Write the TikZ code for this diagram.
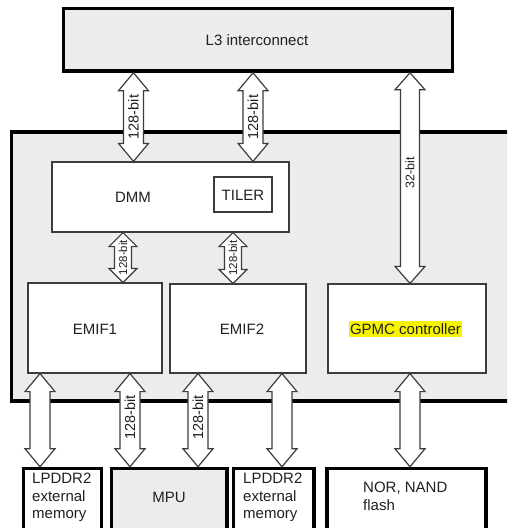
\documentclass[tikz,border=0pt]{standalone}
\usepackage{fontspec}
\setmainfont{Liberation Sans}
\usetikzlibrary{calc}
\definecolor{boxgray}{HTML}{EDEBEC}
\definecolor{arrline}{HTML}{3C3C3C}
\definecolor{txt}{HTML}{231F20}
\definecolor{hilite}{HTML}{F8F400}
\tikzset{
  thickbox/.style={draw=black, line width=3.5pt, fill=boxgray, inner sep=0pt},
  thickwhite/.style={draw=black, line width=3.5pt, fill=white, inner sep=0pt},
  thinbox/.style={draw=arrline, line width=1.2pt, fill=white, inner sep=0pt},
  boxtext/.style={text=txt, font=\fontsize{15}{17.5}\selectfont, inner sep=0pt},
  arrowsty/.style={draw=arrline, line width=1.2pt, fill=white, line join=miter},
  biglab/.style={text=txt, font=\fontsize{14.5}{15}\selectfont, rotate=90, inner sep=0pt},
  smalllab/.style={text=txt, font=\fontsize{11.5}{12}\selectfont, rotate=90, inner sep=0pt},
}
\newcommand\fatarr[5]{%
  \draw[arrowsty] let \p1=(#1), \p2=(#2) in
   (\x1,\y1) -- ({\x1+#4},{\y1-#5}) -- ({\x1+#3},{\y1-#5}) -- ({\x1+#3},{\y2+#5})
   -- ({\x1+#4},{\y2+#5}) -- (\x1,\y2) -- ({\x1-#4},{\y2+#5}) -- ({\x1-#3},{\y2+#5})
   -- ({\x1-#3},{\y1-#5}) -- ({\x1-#4},{\y1-#5}) -- cycle;}
\begin{document}
\begin{tikzpicture}[x=1pt, y=-1pt]
\useasboundingbox (0,0) rectangle (507,528);
\clip (0,0) rectangle (507,528);
\fill[white] (0,0) rectangle (507,528);

% boxes
\node[thickbox, minimum width=389pt, minimum height=62.5pt] (l3) at (258,39.75) {};
\node[boxtext] (l3t) at (257,40) {L3 interconnect};

\node[thickbox, minimum width=508.5pt, minimum height=269pt] (sub) at (265.75,266.5) {};

\node[thinbox, minimum width=237pt, minimum height=70pt] (dmm) at (170.5,197) {};
\node[boxtext] (dmmt) at (133,197) {DMM};
\node[thinbox, minimum width=58pt, minimum height=35pt] (tiler) at (243,194.5) {};
\node[boxtext] (tilert) at (243,195) {TILER};

\node[thinbox, minimum width=134pt, minimum height=90pt] (emif1) at (95,328) {};
\node[boxtext] (emif1t) at (95,329) {EMIF1};
\node[thinbox, minimum width=136pt, minimum height=89pt] (emif2) at (238,328.5) {};
\node[boxtext] (emif2t) at (242,329) {EMIF2};
\node[thinbox, minimum width=158pt, minimum height=89pt] (gpmc) at (407,328.5) {};
\node[boxtext, fill=hilite, inner xsep=1pt, inner ysep=2pt] (gpmct) at (405.5,329) {GPMC controller};

\node[thickwhite, minimum width=78pt, minimum height=71pt] (lp1) at (62.5,504) {};
\node[boxtext, align=left, anchor=north west] (lp1t) at (32,473) {LPDDR2\\external\\memory};
\node[thickbox, minimum width=115.5pt, minimum height=71pt] (mpu) at (169.25,504) {};
\node[boxtext] (mput) at (169,497) {MPU};
\node[thickwhite, minimum width=80.5pt, minimum height=71pt] (lp2) at (273.75,504) {};
\node[boxtext, align=left, anchor=north west] (lp2t) at (243,473) {LPDDR2\\external\\memory};
\node[thickwhite, minimum width=159pt, minimum height=71pt] (nor) at (406.5,504) {};
\node[boxtext, align=left, anchor=north west] (nort) at (363,482) {NOR, NAND\\flash};

% arrow x positions
\coordinate (xa) at (133.5,0);
\coordinate (xb) at (253,0);
\coordinate (xc) at (410,0);
\coordinate (xd) at (123,0);
\coordinate (xe) at (233,0);
\coordinate (xf) at (40,0);
\coordinate (xg) at (130,0);
\coordinate (xh) at (198,0);
\coordinate (xi) at (282,0);

% L3 to DMM
\fatarr{xa |- l3.south}{xa |- dmm.north}{10pt}{15pt}{18pt}
\fatarr{xb |- l3.south}{xb |- dmm.north}{10pt}{15pt}{18pt}
% L3 to GPMC
\fatarr{xc |- l3.south}{xc |- gpmc.north}{9.5pt}{15pt}{17pt}
% DMM to EMIF
\fatarr{xd |- dmm.south}{xd |- emif1.north}{8.5pt}{14pt}{14pt}
\fatarr{xe |- dmm.south}{xe |- emif2.north}{8.5pt}{14pt}{14pt}
% bottom
\fatarr{xf |- emif1.south}{xf |- lp1.north}{10pt}{15pt}{18pt}
\fatarr{xg |- emif1.south}{xg |- mpu.north}{10pt}{15pt}{18pt}
\fatarr{xh |- emif2.south}{xh |- mpu.north}{10pt}{15pt}{18pt}
\fatarr{xi |- emif2.south}{xi |- lp2.north}{10pt}{15pt}{18pt}
\fatarr{xc |- gpmc.south}{xc |- nor.north}{10pt}{15pt}{18pt}

% labels
\node[biglab] (la) at ($(xa |- l3.south)!0.5!(xa |- dmm.north)$) {128-bit};
\node[biglab] (lb) at ($(xb |- l3.south)!0.5!(xb |- dmm.north)$) {128-bit};
\node[smalllab, font=\fontsize{12.5}{13}\selectfont] (lc) at (410,173) {32-bit};
\node[smalllab] (ld) at ($(xd |- dmm.south)!0.5!(xd |- emif1.north)$) {128-bit};
\node[smalllab] (le) at ($(xe |- dmm.south)!0.5!(xe |- emif2.north)$) {128-bit};
\node[biglab] (lg) at (130,417.5) {128-bit};
\node[biglab] (lh) at (198,417.5) {128-bit};
\end{tikzpicture}
\end{document}
